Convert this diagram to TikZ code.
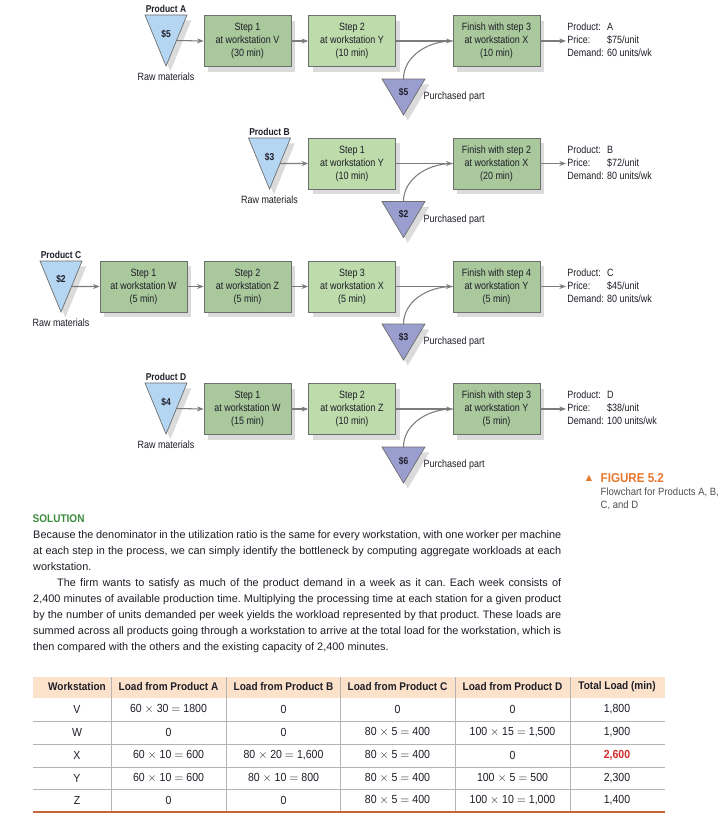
\documentclass[tikz,border=0pt]{standalone}
\usepackage{fontspec}
\setmainfont{Liberation Sans}
\newfontfamily\condfont{Liberation Sans}[FakeStretch=0.9]
\newfontfamily\narrowfont{Liberation Sans}[FakeStretch=0.85]
\newfontfamily\symfont{DejaVu Sans}
\usetikzlibrary{positioning,shapes.geometric,shadows,arrows.meta}

\definecolor{boxdark}{HTML}{A9C89C}
\definecolor{boxlight}{HTML}{BEDCAB}
\definecolor{rawblue}{HTML}{B5D6F2}
\definecolor{partblue}{HTML}{9A9ECF}
\definecolor{edgegray}{HTML}{6E6E6E}
\definecolor{flowgray}{HTML}{7C7C7C}
\definecolor{inkdark}{HTML}{1E1E28}
\definecolor{figorange}{HTML}{E8772E}
\definecolor{capgray}{HTML}{505050}
\definecolor{solgreen}{HTML}{3C8B3E}
\definecolor{headpeach}{HTML}{FCE2CB}
\definecolor{rulebrown}{HTML}{C8643C}
\definecolor{hotred}{HTML}{D62C2C}
\definecolor{gridgray}{HTML}{B4B4B4}

\begin{document}
\begin{tikzpicture}[
        x=0.3mm, y=-0.3mm,
        every node/.style={font=\narrowfont\fontsize{9}{11.1}\selectfont, text=inkdark},
        boxshadow/.style={general shadow={fill=black!14, shadow xshift=1.3mm, shadow yshift=-1.6mm}},
        darkstep/.style={rectangle, draw=edgegray, line width=0.6pt, fill=boxdark, minimum width=26.1mm, minimum height=15.3mm, align=center, inner sep=0pt, boxshadow},
        lightstep/.style={darkstep, fill=boxlight},
        rawtri/.style={isosceles triangle, isosceles triangle stretches, shape border rotate=270, draw=edgegray, line width=0.6pt, fill=rawblue, minimum width=12.6mm, minimum height=15.3mm, inner sep=0pt, outer sep=0pt, boxshadow},
        parttri/.style={rawtri, fill=partblue, minimum width=12.9mm, minimum height=10.8mm},
        prodname/.style={font=\narrowfont\bfseries\fontsize{8.5}{10}\selectfont, inner sep=0.5pt},
        cost/.style={font=\narrowfont\bfseries\fontsize{8.5}{10}\selectfont, inner sep=0pt},
        tag/.style={inner sep=0.5pt},
        info/.style={anchor=west, inner xsep=1pt, inner ysep=0pt, align=left},
        flow/.style={->, >={Stealth[length=2mm, width=1.5mm]}, draw=flowgray, line width=0.9pt},
        merge/.style={draw=flowgray, line width=0.9pt},
        headcell/.style={font=\condfont\bfseries\fontsize{9.5}{11}\selectfont},
        cell/.style={font=\condfont\fontsize{10}{11}\selectfont},
        gridline/.style={draw=gridgray, line width=0.6pt}
        ]

        \path[use as bounding box, fill=white] (0,0) rectangle (728,825);

        % Product A
        \node[rawtri, anchor=apex] (rawA) at (166,66) {};
        \node[prodname, above=0.5mm of rawA.lower side] (nameA) {Product A};
        \node[cost] (costA) at (166,34) {\$5};
        \node[tag, below=1.8mm of rawA.apex] (rawtagA) {Raw materials};
        \node[darkstep] (a1) at (247.5,41) {Step 1\\at workstation V\\(30 min)};
        \node[lightstep] (a2) at (352,41) {Step 2\\at workstation Y\\(10 min)};
        \node[darkstep] (a3) at (496.5,41) {Finish with step 3\\at workstation X\\(10 min)};
        \node[parttri, anchor=apex] (partA) at (403.5,115) {};
        \node[cost] (pcostA) at (403.5,92) {\$5};
        \node[tag, right=2.6mm of partA.left side] (buyA) {Purchased part};
        \node[info] (infoA) at (566,41) {\begin{tabular}{@{}l@{\hspace{1mm}}l@{}}Product: & A\\Price: & \$75/unit\\Demand: & 60 units/wk\end{tabular}};

        % Product B
        \node[rawtri, anchor=apex] (rawB) at (269.5,189) {};
        \node[prodname, above=0.5mm of rawB.lower side] (nameB) {Product B};
        \node[cost] (costB) at (269.5,157) {\$3};
        \node[tag, below=1.8mm of rawB.apex] (rawtagB) {Raw materials};
        \node[lightstep] (b1) at (352,163.5) {Step 1\\at workstation Y\\(10 min)};
        \node[darkstep] (b2) at (496.5,163.5) {Finish with step 2\\at workstation X\\(20 min)};
        \node[parttri, anchor=apex] (partB) at (403.5,237.5) {};
        \node[cost] (pcostB) at (403.5,214.5) {\$2};
        \node[tag, right=2.6mm of partB.left side] (buyB) {Purchased part};
        \node[info] (infoB) at (566,163.5) {\begin{tabular}{@{}l@{\hspace{1mm}}l@{}}Product: & B\\Price: & \$72/unit\\Demand: & 80 units/wk\end{tabular}};

        % Product C
        \node[rawtri, anchor=apex] (rawC) at (61,312) {};
        \node[prodname, above=0.5mm of rawC.lower side] (nameC) {Product C};
        \node[cost] (costC) at (61,279.5) {\$2};
        \node[tag, below=1.8mm of rawC.apex] (rawtagC) {Raw materials};
        \node[darkstep] (c1) at (143.5,286.5) {Step 1\\at workstation W\\(5 min)};
        \node[darkstep] (c2) at (247.5,286.5) {Step 2\\at workstation Z\\(5 min)};
        \node[lightstep] (c3) at (352,286.5) {Step 3\\at workstation X\\(5 min)};
        \node[darkstep] (c4) at (496.5,286.5) {Finish with step 4\\at workstation Y\\(5 min)};
        \node[parttri, anchor=apex] (partC) at (403.5,360) {};
        \node[cost] (pcostC) at (403.5,337.5) {\$3};
        \node[tag, right=2.6mm of partC.left side] (buyC) {Purchased part};
        \node[info] (infoC) at (566,286.5) {\begin{tabular}{@{}l@{\hspace{1mm}}l@{}}Product: & C\\Price: & \$45/unit\\Demand: & 80 units/wk\end{tabular}};

        % Product D
        \node[rawtri, anchor=apex] (rawD) at (166,434) {};
        \node[prodname, above=0.5mm of rawD.lower side] (nameD) {Product D};
        \node[cost] (costD) at (166,402) {\$4};
        \node[tag, below=1.8mm of rawD.apex] (rawtagD) {Raw materials};
        \node[darkstep] (d1) at (247.5,409) {Step 1\\at workstation W\\(15 min)};
        \node[lightstep] (d2) at (352,409) {Step 2\\at workstation Z\\(10 min)};
        \node[darkstep] (d3) at (496.5,409) {Finish with step 3\\at workstation Y\\(5 min)};
        \node[parttri, anchor=apex] (partD) at (403.5,483) {};
        \node[cost] (pcostD) at (403.5,461) {\$6};
        \node[tag, right=2.6mm of partD.left side] (buyD) {Purchased part};
        \node[info] (infoD) at (566,409) {\begin{tabular}{@{}l@{\hspace{1mm}}l@{}}Product: & D\\Price: & \$38/unit\\Demand: & 100 units/wk\end{tabular}};

        % Flow connectors
        \draw[flow] (rawA.left side) -- (a1.west);
        \draw[flow] (a1) -- (a2);
        \draw[flow] (a2) -- (a3);
        \draw[merge] (partA.lower side) .. controls +(0,-22) and +(-26,0) .. (a3.west);
        \draw[flow] (a3.east) -- (infoA.west);

        \draw[flow] (rawB.left side) -- (b1.west);
        \draw[flow] (b1) -- (b2);
        \draw[merge] (partB.lower side) .. controls +(0,-22) and +(-26,0) .. (b2.west);
        \draw[flow] (b2.east) -- (infoB.west);

        \draw[flow] (rawC.left side) -- (c1.west);
        \draw[flow] (c1) -- (c2);
        \draw[flow] (c2) -- (c3);
        \draw[flow] (c3) -- (c4);
        \draw[merge] (partC.lower side) .. controls +(0,-22) and +(-26,0) .. (c4.west);
        \draw[flow] (c4.east) -- (infoC.west);

        \draw[flow] (rawD.left side) -- (d1.west);
        \draw[flow] (d1) -- (d2);
        \draw[flow] (d2) -- (d3);
        \draw[merge] (partD.lower side) .. controls +(0,-22) and +(-26,0) .. (d3.west);
        \draw[flow] (d3.east) -- (infoD.west);

        % Figure caption
        \node[text=figorange, font=\symfont\fontsize{7}{8}\selectfont, inner sep=0pt] (figmark) at (589,478) {▲};
        \node[text=figorange, font=\condfont\bfseries\fontsize{11}{13}\selectfont, anchor=west, inner sep=0pt] (figtitle) at (600.5,478) {FIGURE 5.2};
        \node[text=capgray, font=\condfont\fontsize{9}{11.1}\selectfont, anchor=north west, align=left, inner sep=0pt] (figcap) at (600.5,488) {Flowchart for Products A, B,\\C, and D};

        % Solution text
        \node[text=solgreen, font=\condfont\bfseries\fontsize{9.5}{11}\selectfont, anchor=west, inner sep=0pt] (solhead) at (32.5,519) {SOLUTION};
        \node[font=\rmfamily\fontsize{9.3}{13.66}\selectfont, anchor=north west, inner sep=0pt, text width=158.4mm, align=justify] (soltext) at (33,530) {\frenchspacing\hyphenpenalty=10000 Because the denominator in the utilization ratio is the same for every workstation, with one worker per machine\linebreak at each step in the process, we can simply identify the bottleneck by computing aggregate workloads at each\linebreak workstation.\par
        \hspace*{7.2mm}The firm wants to satisfy as much of the product demand in a week as it can. Each week consists of\linebreak 2,400 minutes of available production time. Multiplying the processing time at each station for a given product\linebreak by the number of units demanded per week yields the workload represented by that product. These loads are\linebreak summed across all products going through a workstation to arrive at the total load for the workstation, which is\linebreak then compared with the others and the existing capacity of 2,400 minutes.};

        % Load table
        \fill[headpeach] (33,677) rectangle (665,698);
        \draw[gridline] (33,721) -- (665,721);
        \draw[gridline] (33,744) -- (665,744);
        \draw[gridline] (33,767) -- (665,767);
        \draw[gridline] (33,789) -- (665,789);
        \draw[gridline] (111.4,677) -- (111.4,812);
        \draw[gridline] (226.6,677) -- (226.6,812);
        \draw[gridline] (340.3,677) -- (340.3,812);
        \draw[gridline] (455,677) -- (455,812);
        \draw[gridline] (570,677) -- (570,812);
        \draw[rulebrown, line width=1.3pt] (33,812) -- (665,812);

        \node[headcell] (hWS) at (77,687) {Workstation};
        \node[headcell] (hA) at (168.5,687) {Load from Product A};
        \node[headcell] (hB) at (283.5,687) {Load from Product B};
        \node[headcell] (hC) at (397.5,687) {Load from Product C};
        \node[headcell] (hD) at (512.5,687) {Load from Product D};
        \node[headcell] (hTot) at (617,687) {Total Load (min)};

        \node[cell] (wsV) at (77,709) {V};
        \node[cell] (aV) at (168.5,709) {60 $\times$ 30 $=$ 1800};
        \node[cell] (bV) at (283.5,709) {0};
        \node[cell] (cV) at (397.5,709) {0};
        \node[cell] (dV) at (512.5,709) {0};
        \node[cell] (totV) at (617,709) {1,800};

        \node[cell] (wsW) at (77,732) {W};
        \node[cell] (aW) at (168.5,732) {0};
        \node[cell] (bW) at (283.5,732) {0};
        \node[cell] (cW) at (397.5,732) {80 $\times$ 5 $=$ 400};
        \node[cell] (dW) at (512.5,732) {100 $\times$ 15 $=$ 1,500};
        \node[cell] (totW) at (617,732) {1,900};

        \node[cell] (wsX) at (77,755) {X};
        \node[cell] (aX) at (168.5,755) {60 $\times$ 10 $=$ 600};
        \node[cell] (bX) at (283.5,755) {80 $\times$ 20 $=$ 1,600};
        \node[cell] (cX) at (397.5,755) {80 $\times$ 5 $=$ 400};
        \node[cell] (dX) at (512.5,755) {0};
        \node[cell, text=hotred, font=\condfont\bfseries\fontsize{10}{11}\selectfont] (totX) at (617,755) {2,600};

        \node[cell] (wsY) at (77,778) {Y};
        \node[cell] (aY) at (168.5,778) {60 $\times$ 10 $=$ 600};
        \node[cell] (bY) at (283.5,778) {80 $\times$ 10 $=$ 800};
        \node[cell] (cY) at (397.5,778) {80 $\times$ 5 $=$ 400};
        \node[cell] (dY) at (512.5,778) {100 $\times$ 5 $=$ 500};
        \node[cell] (totY) at (617,778) {2,300};

        \node[cell] (wsZ) at (77,800) {Z};
        \node[cell] (aZ) at (168.5,800) {0};
        \node[cell] (bZ) at (283.5,800) {0};
        \node[cell] (cZ) at (397.5,800) {80 $\times$ 5 $=$ 400};
        \node[cell] (dZ) at (512.5,800) {100 $\times$ 10 $=$ 1,000};
        \node[cell] (totZ) at (617,800) {1,400};

    \end{tikzpicture}
\end{document}
